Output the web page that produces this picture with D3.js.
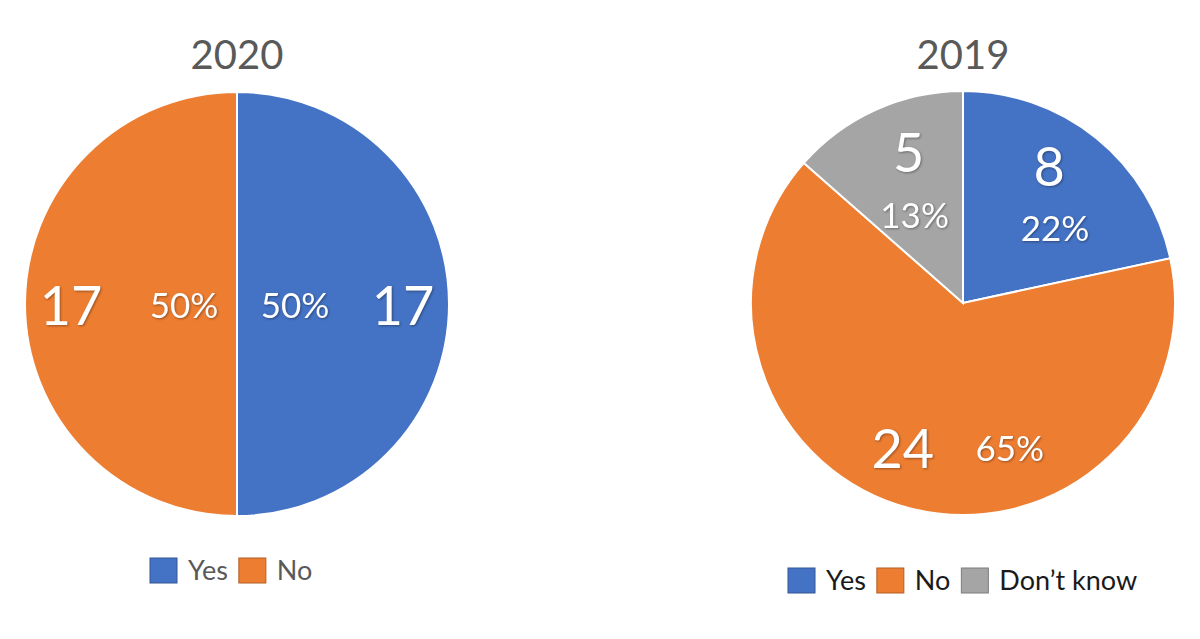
<!DOCTYPE html>
<html>
<head>
<meta charset="utf-8">
<script src="https://cdn.jsdelivr.net/npm/d3@7"></script>
<style>
  body { margin: 0; background: #fff; }
  svg { display: block; font-family: Lato, "Noto Sans", sans-serif; }
  .lbl { fill: #fff; filter: drop-shadow(1px 1.5px 1px rgba(0,0,0,0.35)); }
</style>
</head>
<body>
<svg id="chart" width="1200" height="639"></svg>
<script>
// data
const categories2020 = ['Yes', 'No'];
const values2020 = [17, 17];
const percents2020 = ['50%', '50%'];

const categories2019 = ['Yes', 'No', "Don\u2019t know"];
const values2019 = [8, 24, 5];
const percents2019 = ['22%', '65%', '13%'];

const colors = ['#4472C4', '#ED7D31', '#A5A5A5'];

const svg = d3.select('#chart');
const radius = 212;

// label placement: 'radial' puts value and % along the mid angle at two radii,
// 'stack' puts value above % around the centroid, 'row' puts them side by side
const charts = [
  { title: '2020', cx: 237, cy: 304, cats: categories2020, vals: values2020, pcts: percents2020,
    legendX: 150, legendY: 558, legendColor: '#595959',
    labels: [ { mode: 'radial', vr: 166, pr: 58 }, { mode: 'radial', vr: 166, pr: 53 } ] },
  { title: '2019', cx: 963, cy: 303, cats: categories2019, vals: values2019, pcts: percents2019,
    legendX: 788, legendY: 568, legendColor: '#1a1a1a',
    labels: [ { mode: 'stack', r: 137 }, { mode: 'row', r: 144, dx: -24 }, { mode: 'stack', r: 132 } ] }
];

charts.forEach(c => {
  const g = svg.append('g').attr('transform', `translate(${c.cx},${c.cy})`);

  const pie = d3.pie().sort(null).value(d => d);
  const arcs = pie(c.vals);
  const arc = d3.arc().innerRadius(0).outerRadius(radius);

  g.selectAll('path').data(arcs).join('path')
    .attr('d', arc)
    .attr('fill', (d, i) => colors[i])
    .attr('stroke', '#fff')
    .attr('stroke-width', 2);

  arcs.forEach((d, i) => {
    const L = c.labels[i];
    const mid = (d.startAngle + d.endAngle) / 2;
    const at = r => [Math.sin(mid) * r, -Math.cos(mid) * r];
    let vp, pp;
    if (L.mode === 'radial') {
      vp = at(L.vr); pp = at(L.pr);
    } else if (L.mode === 'stack') {
      const p = at(L.r);
      vp = [p[0], p[1] - 31]; pp = [p[0] + 6, p[1] + 31];
    } else {
      const p = at(L.r);
      vp = [p[0] + L.dx, p[1] + 5]; pp = [p[0] + L.dx + 107, p[1] + 5];
    }
    g.append('text').attr('class', 'lbl')
      .attr('x', vp[0]).attr('y', vp[1])
      .attr('text-anchor', 'middle').attr('dominant-baseline', 'central')
      .attr('font-size', 54).text(c.vals[i]);
    g.append('text').attr('class', 'lbl')
      .attr('x', pp[0]).attr('y', pp[1])
      .attr('text-anchor', 'middle').attr('dominant-baseline', 'central')
      .attr('font-size', 35).text(c.pcts[i]);
  });

  svg.append('text')
    .attr('x', c.cx).attr('y', 69)
    .attr('text-anchor', 'middle')
    .attr('font-size', 40).attr('fill', '#595959')
    .text(c.title);

  // legend
  const lg = svg.append('g').attr('transform', `translate(${c.legendX},${c.legendY})`);
  let x = 0;
  c.cats.forEach((name, i) => {
    lg.append('rect').attr('x', x).attr('y', 0).attr('width', 27).attr('height', 25)
      .attr('fill', colors[i]).attr('stroke', d3.color(colors[i]).darker(0.8)).attr('stroke-width', 1);
    const t = lg.append('text').attr('x', x + 38).attr('y', 22)
      .attr('font-size', 27).attr('fill', c.legendColor).text(name);
    x += 38 + t.node().getComputedTextLength() + 11;
  });
});
</script>
</body>
</html>
